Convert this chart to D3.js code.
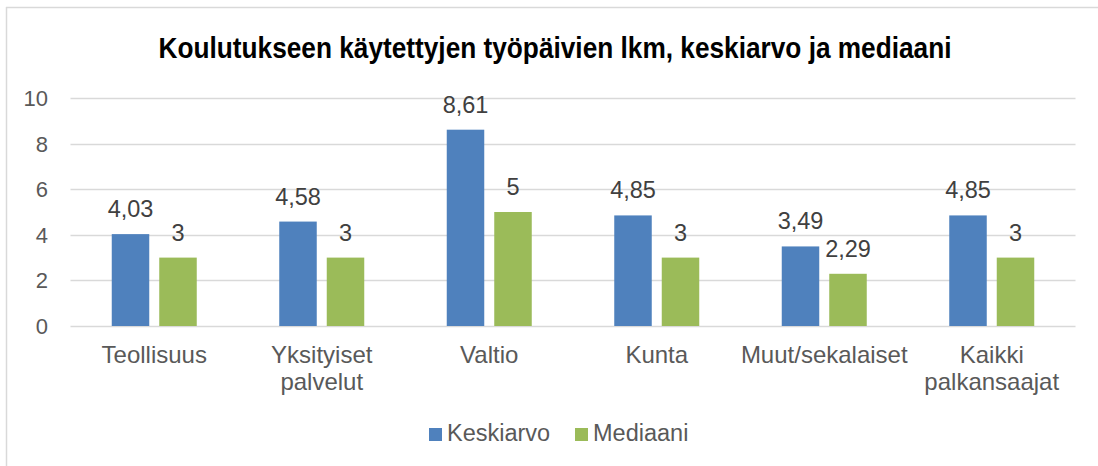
<!DOCTYPE html>
<html>
<head>
<meta charset="utf-8">
<script src="https://cdn.jsdelivr.net/npm/d3@7"></script>
<style>
  body { margin: 0; background: #fff; }
  text { font-family: "Liberation Sans", Arial, sans-serif; }
</style>
</head>
<body>
<script>
// chart data
const categories = [["Teollisuus"], ["Yksityiset", "palvelut"], ["Valtio"], ["Kunta"], ["Muut/sekalaiset"], ["Kaikki", "palkansaajat"]];
const keskiarvo = [4.03, 4.58, 8.61, 4.85, 3.49, 4.85];
const mediaani = [3, 3, 5, 3, 2.29, 3];
const seriesNames = ["Keskiarvo", "Mediaani"];
const yTicks = [0, 2, 4, 6, 8, 10];

const colors = ["#4F81BD", "#9BBB59"];
const width = 1098, height = 466;

const svg = d3.select("body").append("svg")
  .attr("width", width)
  .attr("height", height);

// chart area border (left + top visible)
svg.append("line").attr("x1", 6.5).attr("x2", 6.5).attr("y1", 7).attr("y2", height)
  .attr("stroke", "#d9d9d9").attr("stroke-width", 1.5);
svg.append("line").attr("x1", 6).attr("x2", width).attr("y1", 7.5).attr("y2", 7.5)
  .attr("stroke", "#d9d9d9").attr("stroke-width", 1.5);

// title, condensed bold
svg.append("text")
  .attr("x", 555).attr("y", 58)
  .attr("text-anchor", "middle")
  .attr("textLength", 793).attr("lengthAdjust", "spacingAndGlyphs")
  .style("font-size", "29px").style("font-weight", "bold")
  .attr("fill", "#000")
  .text("Koulutukseen käytettyjen työpäivien lkm, keskiarvo ja mediaani");

const plotLeft = 70.5, plotRight = 1075.5, plotTop = 98, plotBottom = 326;

const x0 = d3.scaleBand().domain(d3.range(categories.length)).range([plotLeft, plotRight]);
const y = d3.scaleLinear().domain([0, 10]).range([plotBottom, plotTop]);

// gridlines
svg.append("g").selectAll("line").data(yTicks).enter().append("line")
  .attr("x1", plotLeft).attr("x2", plotRight)
  .attr("y1", d => Math.round(y(d)) + 0.5).attr("y2", d => Math.round(y(d)) + 0.5)
  .attr("stroke", "#d9d9d9").attr("stroke-width", 1.5);

// y tick labels
svg.append("g").selectAll("text").data(yTicks).enter().append("text")
  .attr("x", 48).attr("y", d => y(d) + 8)
  .attr("text-anchor", "end")
  .style("font-size", "22px")
  .attr("fill", "#595959")
  .text(d => d);

const barW = 37.5, gap = 10;
const series = [keskiarvo, mediaani];

series.forEach((vals, si) => {
  const g = svg.append("g");
  const bx = i => x0(i) + x0.bandwidth() / 2 - barW - gap / 2 + si * (barW + gap);
  g.selectAll("rect").data(vals).enter().append("rect")
    .attr("x", (d, i) => bx(i))
    .attr("y", d => y(d))
    .attr("width", barW)
    .attr("height", d => plotBottom - y(d))
    .attr("fill", colors[si]);
  g.selectAll("text").data(vals).enter().append("text")
    .attr("x", (d, i) => bx(i) + barW / 2)
    .attr("y", d => y(d) - 17)
    .attr("text-anchor", "middle")
    .style("font-size", "23.5px")
    .attr("fill", "#404040")
    .text(d => String(d).replace(".", ","));
});

// category labels
const cat = svg.append("g").selectAll("text").data(categories).enter().append("text")
  .attr("x", (d, i) => x0(i) + x0.bandwidth() / 2)
  .attr("y", 363)
  .attr("text-anchor", "middle")
  .style("font-size", "24px")
  .attr("fill", "#595959");
cat.selectAll("tspan").data(d => d).enter().append("tspan")
  .attr("x", function() { return this.parentNode.getAttribute("x"); })
  .attr("dy", (d, i) => i === 0 ? 0 : 27)
  .text(d => d);

// legend
const legendX = [429, 575];
seriesNames.forEach((name, i) => {
  svg.append("rect")
    .attr("x", legendX[i]).attr("y", 428)
    .attr("width", 13).attr("height", 13)
    .attr("fill", colors[i]);
  svg.append("text")
    .attr("x", legendX[i] + 18).attr("y", 441)
    .style("font-size", "23.5px")
    .attr("fill", "#595959")
    .text(name);
});
</script>
</body>
</html>
